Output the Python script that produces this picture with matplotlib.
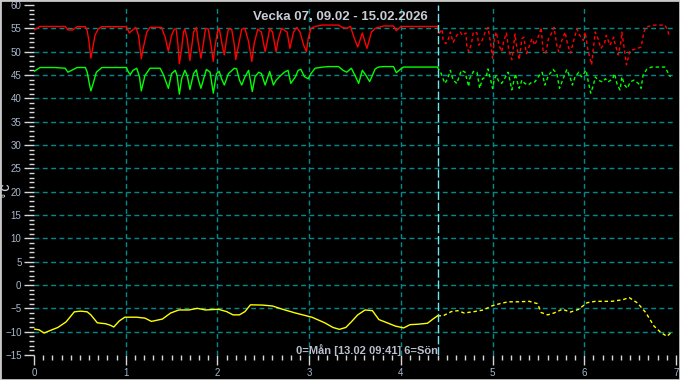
from matplotlib import pyplot as plt
from matplotlib.ticker import MultipleLocator
from matplotlib.patches import Rectangle
import numpy as np

# Vecka 07 temperature chart, measured (solid) and forecast (dotted)

title = "Vecka 07, 09.02 - 15.02.2026"
note = "0=Mån [13.02 09:41] 6=Sön"
now_x = 4.40

# red - measured
red_t = [0, 0.065, 0.34, 0.37, 0.42, 0.47, 0.56, 0.58, 0.60, 0.62, 0.64, 0.665, 0.70, 0.74,
         1.007, 1.04, 1.075, 1.11, 1.14, 1.17, 1.19, 1.23, 1.265, 1.39, 1.43, 1.465, 1.50,
         1.53, 1.55, 1.57, 1.585, 1.61, 1.63, 1.645, 1.67, 1.70, 1.74, 1.77, 1.79, 1.82,
         1.85, 1.87, 1.90, 1.93, 1.955, 1.97, 2.0, 2.02, 2.045, 2.075, 2.10, 2.12, 2.155,
         2.185, 2.20, 2.23, 2.265, 2.30, 2.34, 2.375, 2.40, 2.44, 2.48, 2.52, 2.55, 2.57,
         2.60, 2.64, 2.665, 2.70, 2.76, 2.79, 2.83, 2.865, 2.90, 2.94, 2.97, 2.99, 3.02,
         3.065, 3.14, 3.32, 3.36, 3.41, 3.45, 3.49, 3.53, 3.58, 3.63, 3.68, 3.72, 3.81,
         3.92, 3.95, 3.97, 4.00, 4.06, 4.40]
red_v = [54.65, 55.4, 55.4, 54.65, 54.65, 55.35, 55.35, 54.5, 52.1, 48.6, 50.7, 53.5, 54.85, 55.35,
         55.35, 54.0, 54.65, 55.2, 53.5, 48.5, 50.7, 54.2, 55.2, 55.2, 53.1, 50.1, 53.5,
         54.85, 54.85, 51.4, 47.4, 50.7, 54.2, 54.85, 52.8, 48.1, 54.2, 55.2, 52.1, 48.6,
         52.1, 55.0, 54.85, 51.4, 47.9, 50.7, 54.2, 55.0, 52.1, 49.3, 52.8, 54.85, 54.85,
         51.4, 48.3, 51.4, 54.85, 55.0, 52.1, 47.9, 51.7, 54.85, 54.2, 50.0, 52.8, 55.0,
         54.2, 50.0, 52.8, 55.0, 54.2, 50.7, 54.2, 55.2, 54.2, 51.4, 50.0, 52.8, 55.0,
         55.4, 55.7, 55.7, 55.2, 55.0, 55.4, 53.0, 51.0, 54.0, 50.7, 54.2, 55.0, 55.5,
         55.5, 54.5, 54.85, 55.4, 55.4, 55.4]

# red - forecast
red_ft = [4.40, 4.42, 4.45, 4.46, 4.49, 4.52, 4.54, 4.57, 4.61, 4.65, 4.67, 4.71, 4.72, 4.74,
          4.77, 4.79, 4.83, 4.85, 4.88, 4.92, 4.95, 4.98, 5.00, 5.02, 5.04, 5.07, 5.10, 5.12,
          5.15, 5.18, 5.21, 5.245, 5.26, 5.29, 5.32, 5.34, 5.37, 5.41, 5.43, 5.46, 5.51, 5.53,
          5.55, 5.58, 5.61, 5.64, 5.67, 5.70, 5.72, 5.75, 5.79, 5.82, 5.85, 5.89, 5.92, 5.95,
          5.99, 6.01, 6.04, 6.08, 6.10, 6.12, 6.15, 6.18, 6.22, 6.24, 6.28, 6.32, 6.33, 6.37,
          6.40, 6.41, 6.44, 6.46, 6.50, 6.55, 6.62, 6.65, 6.67, 6.72, 6.77, 6.88, 6.91, 6.93]
red_fv = [55.4, 54.0, 54.8, 52.5, 51.7, 52.8, 54.2, 52.0, 53.5, 54.2, 53.5, 54.0, 51.0, 50.0,
          51.7, 54.2, 54.0, 51.4, 52.1, 54.2, 55.2, 51.7, 48.6, 52.8, 54.2, 51.4, 50.0, 52.1,
          54.0, 50.0, 48.3, 53.8, 51.4, 48.3, 52.8, 53.1, 49.6, 51.7, 52.8, 51.4, 53.8, 55.2,
          50.3, 49.7, 52.8, 53.8, 55.2, 51.4, 50.0, 52.1, 54.2, 51.4, 49.7, 52.8, 54.85, 53.5,
          52.4, 54.2, 50.3, 47.2, 51.0, 54.2, 52.8, 50.7, 51.7, 53.5, 51.4, 53.1, 52.1, 49.3,
          52.1, 54.2, 50.0, 47.2, 50.3, 50.5, 51.0, 54.2, 55.2, 55.55, 55.7, 55.7, 54.5, 53.1]

# green - measured
green_t = [0, 0.065, 0.23, 0.34, 0.37, 0.41, 0.47, 0.56, 0.58, 0.60, 0.62, 0.65, 0.68, 0.74,
           1.007, 1.03, 1.05, 1.08, 1.12, 1.15, 1.17, 1.21, 1.265, 1.375, 1.41, 1.465, 1.50,
           1.54, 1.56, 1.585, 1.61, 1.645, 1.67, 1.70, 1.74, 1.77, 1.79, 1.82, 1.86, 1.88,
           1.92, 1.955, 1.99, 2.02, 2.045, 2.075, 2.12, 2.185, 2.21, 2.24, 2.265, 2.30, 2.34,
           2.38, 2.41, 2.45, 2.48, 2.52, 2.55, 2.57, 2.61, 2.64, 2.69, 2.73, 2.77, 2.80, 2.85,
           2.88, 2.91, 2.95, 2.99, 3.02, 3.065, 3.15, 3.21, 3.32, 3.37, 3.41, 3.46, 3.50, 3.54,
           3.58, 3.62, 3.66, 3.72, 3.755, 3.81, 3.92, 3.95, 4.00, 4.03, 4.40]
green_v = [45.75, 46.6, 46.6, 46.45, 45.6, 46.0, 46.6, 46.6, 45.6, 43.5, 41.6, 43.5, 45.6, 46.6,
           46.6, 45.6, 45.1, 46.0, 46.45, 44.6, 41.6, 44.9, 46.45, 46.45, 45.1, 42.15, 45.3,
           46.0, 44.9, 40.9, 44.2, 46.0, 44.9, 41.9, 45.3, 46.1, 44.2, 42.15, 44.9, 46.2,
           45.6, 41.1, 45.3, 45.75, 44.2, 42.85, 45.3, 46.45, 46.3, 43.9, 42.85, 44.6, 46.0,
           41.45, 44.6, 45.6, 45.3, 42.85, 44.6, 45.75, 42.85, 43.9, 44.9, 45.6, 46.0, 43.2, 44.6,
           46.0, 46.2, 44.6, 44.2, 45.3, 46.45, 46.7, 46.8, 46.8, 46.0, 45.6, 46.45, 44.9, 43.2,
           46.0, 44.9, 43.6, 46.3, 46.7, 46.8, 46.8, 45.5, 46.3, 46.7, 46.7]

# green - forecast
green_ft = [4.40, 4.41, 4.44, 4.46, 4.48, 4.51, 4.54, 4.57, 4.61, 4.64, 4.66, 4.70, 4.74, 4.75,
            4.79, 4.83, 4.86, 4.89, 4.93, 4.95, 4.98, 5.00, 5.02, 5.04, 5.07, 5.10, 5.15, 5.17,
            5.21, 5.25, 5.26, 5.29, 5.32, 5.35, 5.39, 5.43, 5.46, 5.51, 5.54, 5.57, 5.61, 5.66,
            5.70, 5.73, 5.77, 5.81, 5.85, 5.87, 5.90, 5.94, 5.97, 6.02, 6.04, 6.07, 6.10, 6.12,
            6.15, 6.20, 6.23, 6.26, 6.31, 6.33, 6.36, 6.39, 6.41, 6.44, 6.47, 6.50, 6.54, 6.59,
            6.62, 6.64, 6.68, 6.73, 6.88, 6.91, 6.94]
green_fv = [46.7, 46.3, 45.3, 44.2, 43.2, 44.2, 46.0, 43.9, 43.2, 44.9, 46.0, 45.6, 42.5, 44.2,
            45.75, 45.6, 42.15, 44.2, 44.6, 46.3, 43.9, 42.15, 44.2, 44.9, 43.5, 43.2, 44.9, 45.6,
            41.8, 45.3, 44.2, 42.15, 43.9, 43.2, 42.85, 43.5, 43.5, 44.9, 45.6, 42.85, 44.9, 46.2,
            45.3, 42.15, 44.2, 46.2, 44.2, 42.85, 44.6, 45.6, 44.6, 46.0, 43.9, 41.1, 42.85, 44.6,
            43.9, 43.5, 44.2, 43.5, 44.2, 45.3, 42.85, 41.8, 44.6, 42.85, 42.15, 43.5, 43.9, 43.2,
            42.15, 44.9, 46.2, 46.7, 46.7, 45.6, 44.6]

# yellow - measured
yel_t = [0, 0.055, 0.11, 0.17, 0.26, 0.35, 0.44, 0.51, 0.58, 0.62, 0.69, 0.78, 0.83, 0.87,
         0.93, 0.99, 1.12, 1.21, 1.28, 1.40, 1.49, 1.58, 1.69, 1.78, 1.87, 2.01, 2.10, 2.17,
         2.24, 2.30, 2.36, 2.49, 2.60, 2.71, 2.85, 3.03, 3.17, 3.26, 3.33, 3.40, 3.46, 3.53,
         3.61, 3.69, 3.76, 3.85, 3.94, 4.03, 4.10, 4.19, 4.29, 4.35, 4.40]
yel_v = [-9.45, -9.6, -10.3, -9.8, -9.1, -7.9, -5.75, -5.6, -5.75, -6.4, -8.1, -8.3, -8.6, -9.0,
         -7.7, -6.9, -6.9, -7.1, -7.8, -7.3, -6.0, -5.35, -5.35, -5.0, -5.35, -5.2, -5.7, -6.4,
         -6.4, -5.7, -4.25, -4.3, -4.5, -5.2, -6.0, -6.9, -8.1, -9.1, -9.5, -9.1, -7.9, -6.4,
         -5.35, -5.5, -7.4, -8.1, -8.8, -9.2, -8.5, -8.4, -8.2, -7.3, -6.6]

# yellow - forecast
yel_ft = [4.40, 4.46, 4.55, 4.62, 4.69, 4.80, 4.90, 4.99, 5.08, 5.17, 5.28, 5.40, 5.49, 5.53,
          5.60, 5.67, 5.76, 5.85, 5.94, 6.03, 6.12, 6.30, 6.42, 6.49, 6.58, 6.67, 6.76, 6.83,
          6.90, 6.96]
yel_fv = [-6.6, -6.6, -5.7, -5.5, -6.0, -5.7, -5.35, -4.5, -4.0, -3.6, -3.6, -3.5, -4.0, -5.9,
          -6.4, -6.0, -5.2, -5.8, -5.2, -3.8, -3.5, -3.5, -3.15, -2.7, -3.85, -5.9, -8.8, -10.1,
          -11.0, -10.0]

plt.rcParams['font.family'] = ['Liberation Sans', 'DejaVu Sans']

fig = plt.figure(figsize=(6.8, 3.8), dpi=100, facecolor='black')
ax = fig.add_axes([34 / 680, 25 / 380, 642 / 680, 350 / 380])
ax.set_facecolor('black')

# grid only on inner major lines
grid_style = dict(color='#008b8b', lw=1, linestyle=(0, (3.5, 2.5)), zorder=1)
for yv in range(-10, 60, 5):
    ax.axhline(yv, **grid_style)
for xv in range(1, 7):
    ax.axvline(xv, **grid_style)

dot = (0, (2.5, 2))
ax.plot(red_t, red_v, color='#ff0000', lw=1, zorder=3)
ax.plot(red_ft, red_fv, color='#ff0000', lw=1, linestyle=dot, zorder=3)
ax.plot(green_t, green_v, color='#00ff00', lw=1, zorder=3)
ax.plot(green_ft, green_fv, color='#00ff00', lw=1, linestyle=dot, zorder=3)
ax.plot(yel_t, yel_v, color='#ffff00', lw=1, zorder=3)
ax.plot(yel_ft, yel_fv, color='#ffff00', lw=1, linestyle=dot, zorder=3)

ax.axvline(now_x, color='#70e8f0', lw=1, linestyle=(0, (6, 2)), zorder=4)

ax.set_xlim(0, 7)
ax.set_ylim(-15, 60)
ax.xaxis.set_major_locator(MultipleLocator(1))
ax.xaxis.set_minor_locator(MultipleLocator(0.1))
ax.yaxis.set_major_locator(MultipleLocator(5))
ax.yaxis.set_minor_locator(MultipleLocator(1))
for s in ax.spines.values():
    s.set_visible(False)

ax.tick_params(which='major', length=7, width=1, color='#d8d8d8', labelcolor='#a8b8cc',
               labelsize=7, pad=2)
ax.tick_params(which='minor', length=3.5, width=1, color='#d8d8d8')

fig.text(6.5 / 680, 0.5, "° C", rotation=90, ha='center', va='center', color='#c8ccd4',
         fontsize=7, fontweight='bold')

fig.text(0.5, 1 - 17 / 380, title, ha='center', va='center', color='#c8ccd4',
         fontsize=9.5, fontweight='bold')
ax.text(now_x, -14, note, ha='right', va='center', color='#b8c0cc',
        fontsize=8, fontweight='bold')

fig.patches.append(Rectangle((0, 0), 1, 1, transform=fig.transFigure, fill=False,
                             edgecolor='#c8c8c8', lw=2))

plt.savefig("out.png", facecolor='black')
